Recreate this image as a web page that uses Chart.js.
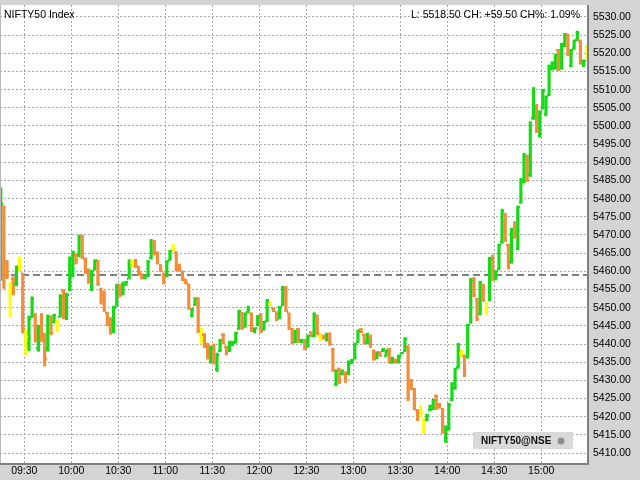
<!DOCTYPE html>
<html>
<head>
<meta charset="utf-8">
<script src="https://cdn.jsdelivr.net/npm/chart.js@4/dist/chart.umd.min.js"></script>
<style>
html, body { margin: 0; padding: 0; background: #d4d4d4; }
canvas { display: block; }
</style>
</head>
<body>
<canvas id="myChart" width="640" height="480"></canvas>
<script>
// 2-minute bars from 09:15
const firstBar = '09:15';
const barStep = 2;

const opens = [
    5460, 5478, 5462.5, 5455, 5458, 5456.5, 5461.5, 5459.5, 5442, 5440,
    5447.5, 5448, 5439, 5447.5, 5442.5, 5438.5, 5447.5, 5446, 5446, 5447.5,
    5454.5, 5447, 5455, 5459, 5464.5, 5464.5, 5469.5, 5463.5, 5460.5, 5456,
    5460.5, 5462.5, 5455, 5453.5, 5448.5, 5447, 5443.5, 5450.5, 5456, 5454,
    5456.3, 5458, 5462.5, 5463, 5461, 5459.2, 5458.1, 5458.7, 5463.8, 5468,
    5465, 5461.5, 5459.4, 5459, 5463.2, 5466.2, 5465.2, 5461.8, 5460, 5457.6,
    5456.3, 5447.8, 5450.8, 5452.5, 5442.5, 5442.5, 5440, 5435, 5439.5, 5433,
    5438, 5442.5, 5439.3, 5438, 5439.7, 5440.4, 5444.2, 5448.5, 5444.8, 5448.8,
    5448.4, 5443.3, 5445.2, 5448, 5444, 5446.3, 5451, 5449.8, 5448.7, 5447.2,
    5450.8, 5455.5, 5448.4, 5444, 5440.6, 5444, 5440.6, 5441, 5439.3, 5443.2,
    5442.3, 5447.8, 5442, 5442.3, 5441, 5442.8, 5438.6, 5429, 5433, 5431.7,
    5432.2, 5431.7, 5434.8, 5436, 5440.6, 5444.1, 5442.5, 5440.3, 5442.3, 5438.2,
    5436.1, 5437.7, 5438, 5436.8, 5438.5, 5434.9, 5435.7, 5435, 5437.3, 5438,
    5439.3, 5430, 5427.6, 5421.8, 5421, 5418.8, 5419, 5421.8, 5422.1, 5425.8,
    5423.5, 5422.1, 5413.5, 5416.6, 5424.6, 5428, 5433.6, 5437.5, 5436.8, 5436.4,
    5446, 5458, 5452.4, 5448.3, 5456.3, 5450, 5452.2, 5464.2, 5457.8, 5460.6,
    5468, 5475.8, 5467.3, 5462.5, 5473.4, 5466.2, 5479, 5484.6, 5491.7, 5486.5,
    5502.2, 5505.7, 5497.3, 5505, 5503.2, 5508.6, 5515.6, 5516, 5520.8, 5516,
    5522, 5525, 5516.6, 5521.4, 5523.8, 5523.4, 5516.6, 5518.5
];

const highs = [
    5483, 5478, 5463, 5457, 5458.5, 5461.5, 5464, 5459.5, 5443.7, 5447.7,
    5453, 5448.5, 5445.2, 5448.4, 5443, 5448, 5447.8, 5448.2, 5446.6, 5453.6,
    5455, 5454, 5464, 5465.6, 5464.7, 5470, 5470, 5463.7, 5460.7, 5460.3,
    5463.2, 5463, 5455.4, 5454.6, 5448.8, 5447.3, 5450.4, 5456.5, 5456.5, 5457.1,
    5457.3, 5463.2, 5463, 5463.3, 5461.4, 5459.4, 5458.9, 5463, 5468.8, 5468.5,
    5465.4, 5461.9, 5459.6, 5463, 5465.8, 5467.4, 5465.4, 5462, 5460.1, 5457.8,
    5456.5, 5449.8, 5452.8, 5452.8, 5444.3, 5442.9, 5440.2, 5439.5, 5440, 5437.5,
    5441.3, 5442.9, 5439.5, 5440.8, 5440.8, 5443.3, 5449.3, 5448.7, 5448.6, 5450.4,
    5448.6, 5444.5, 5447.9, 5448.4, 5446.3, 5452.3, 5451.5, 5450, 5448.9, 5450.4,
    5455.9, 5455.9, 5448.6, 5444.3, 5443.8, 5444.3, 5441.3, 5441.3, 5442.5, 5443.4,
    5448.6, 5448, 5443, 5442.5, 5443, 5443.1, 5438.8, 5432.9, 5433.4, 5432.9,
    5432.4, 5435.4, 5435.8, 5440.2, 5443.9, 5444.3, 5442.7, 5443, 5442.5, 5438.4,
    5437.9, 5437.9, 5438.8, 5438.4, 5438.8, 5436.4, 5435.9, 5437, 5437.7, 5441.8,
    5439.5, 5430.3, 5427.8, 5422, 5423.2, 5419.5, 5420.7, 5423.2, 5424.8, 5426,
    5423.7, 5422.3, 5417.5, 5423.7, 5429.4, 5433.3, 5440.2, 5438.4, 5437, 5445.5,
    5458.1, 5458.3, 5452.6, 5457.3, 5456.5, 5451.5, 5463.9, 5464.5, 5460.2, 5467.5,
    5477.1, 5476, 5467.5, 5471.9, 5473.7, 5478, 5485.6, 5492.5, 5492, 5501.2,
    5510.6, 5506, 5504.2, 5510.1, 5508.3, 5516.8, 5517.7, 5519.8, 5521.1, 5522.8,
    5525.5, 5525.3, 5521.1, 5523.7, 5526.1, 5523.7, 5518.2, 5522.3
];

const lows = [
    5457.5, 5455.3, 5458, 5447.5, 5453.5, 5456, 5460, 5443, 5437, 5438.2,
    5447.3, 5440.5, 5438, 5440.6, 5433.9, 5438, 5442.5, 5445.8, 5443.3, 5447.4,
    5447, 5446.7, 5454.7, 5458.5, 5462, 5464, 5463.5, 5459.4, 5456.7, 5454.7,
    5460.3, 5456.1, 5451, 5448.9, 5445, 5442.7, 5443.1, 5450.4, 5453, 5453.5,
    5456.1, 5457.9, 5461, 5461, 5458.9, 5457.9, 5457.9, 5458.5, 5463.4, 5464.5,
    5462, 5459.9, 5456.5, 5458.5, 5463, 5465.6, 5460.1, 5460, 5457.4, 5456.5,
    5449.5, 5447.5, 5450.6, 5443.1, 5440, 5439, 5435.8, 5434.7, 5434.5, 5432.4,
    5437.9, 5440, 5437, 5437.9, 5439.5, 5440.2, 5444, 5444, 5444.6, 5448.6,
    5443.4, 5443.1, 5445, 5443.1, 5443.8, 5446.1, 5450.6, 5448.9, 5446.4, 5447,
    5450.6, 5448.9, 5444, 5440, 5440.4, 5440.4, 5440.4, 5438.4, 5439.1, 5442,
    5442, 5442.5, 5440.8, 5441.3, 5440.8, 5439.6, 5432.4, 5428.5, 5429.1, 5431.5,
    5429.4, 5431.5, 5434.6, 5435.8, 5440.4, 5443.1, 5440, 5440, 5439, 5435.5,
    5435.9, 5436.6, 5437.9, 5436.6, 5434.7, 5434.7, 5434.7, 5434.7, 5437.3, 5437.9,
    5424.4, 5427.4, 5421.9, 5418.9, 5419.8, 5415.4, 5418.9, 5421.6, 5421.9, 5421.9,
    5422.3, 5415.4, 5412.9, 5416.3, 5424.4, 5427.5, 5433.3, 5436.5, 5431, 5436.1,
    5445.7, 5453, 5446.4, 5448, 5451.7, 5448, 5451.9, 5457.4, 5457.6, 5460.4,
    5467.7, 5468.2, 5460.6, 5462.2, 5469.1, 5465.9, 5478.7, 5484.3, 5484.7, 5486.1,
    5501.8, 5498.2, 5496.9, 5504.6, 5502.8, 5508.3, 5515.4, 5515.6, 5515.2, 5515.6,
    5521.8, 5519.3, 5516.3, 5521.1, 5523.5, 5517, 5516.3, 5518.5
];

const closes = [
    5478.5, 5462, 5459, 5455, 5454.5, 5461, 5461.5, 5444, 5442, 5447,
    5452.5, 5441, 5445, 5442, 5436, 5447.5, 5443, 5448, 5446, 5453,
    5448, 5453.5, 5463.5, 5465, 5463, 5469.5, 5464, 5460, 5457, 5460,
    5463, 5456.5, 5452, 5449.5, 5445.5, 5443, 5450, 5456, 5453.5, 5456.5,
    5457, 5462.5, 5462.5, 5461.5, 5459.5, 5458.2, 5458.7, 5462.5, 5468, 5465,
    5462.5, 5460.2, 5457, 5462.8, 5465.5, 5466.2, 5461, 5460.3, 5457.8, 5456.8,
    5450, 5449.5, 5452.5, 5443.5, 5442.5, 5439.5, 5436.5, 5438.5, 5435, 5437,
    5441, 5440.5, 5437.5, 5440.5, 5440.6, 5443, 5449, 5444.5, 5448.3, 5450.2,
    5443.8, 5444.3, 5447.6, 5443.5, 5446, 5452, 5451, 5449.1, 5446.8, 5450.2,
    5455.5, 5449.2, 5444.4, 5440.5, 5443.5, 5440.8, 5441.1, 5438.8, 5442.2, 5442.3,
    5448.2, 5443, 5442, 5441.6, 5442.7, 5440, 5432.8, 5432.5, 5429.6, 5432.7,
    5429.8, 5435, 5435.6, 5440, 5443.6, 5443.3, 5440.4, 5442.7, 5439.4, 5435.9,
    5437.6, 5436.8, 5438.6, 5438.1, 5435, 5436.2, 5435, 5436.8, 5437.6, 5441.5,
    5426, 5428, 5422.3, 5419.3, 5421, 5418.8, 5420.4, 5423, 5424.5, 5422.4,
    5422.6, 5415.8, 5417, 5423.3, 5429, 5433, 5439.8, 5437.5, 5431.5, 5445.2,
    5457.5, 5453.4, 5447, 5457, 5452, 5450, 5463.5, 5458, 5460, 5467.2,
    5476.6, 5468.6, 5461, 5471.5, 5469.5, 5477.6, 5485.2, 5492, 5485, 5500.8,
    5510.2, 5498.6, 5503.8, 5509.7, 5508, 5516.4, 5517.4, 5519.5, 5515.6, 5522.5,
    5525.2, 5519.8, 5520.8, 5523.4, 5525.8, 5517.4, 5518, 5518.5
];

const timeLabels = ['09:30', '10:00', '10:30', '11:00', '11:30', '12:00',
    '12:30', '13:00', '13:30', '14:00', '14:30', '15:00'];

const prevClose = 5459.00;
const titleText = 'NIFTY50 Index';
const infoText = 'L: 5518.50 CH: +59.50 CH%: 1.09%';
const badgeText = 'NIFTY50@NSE';

const VERDE = '#14dc14';
const LARANJA = '#f58c37';
const AMARELO = '#ffff00';
const FONTE = '"Liberation Sans", Arial, sans-serif';

function toMin(s) {
    const p = s.split(':');
    return Number(p[0]) * 60 + Number(p[1]);
}

const start = toMin(firstBar);
const barTimes = opens.map((o, i) => start + barStep * i);
const cores = opens.map((o, i) => {
    if (closes[i] > o) return VERDE;
    if (closes[i] < o) return LARANJA;
    return AMARELO;
});

const data = {
    datasets: [{
        label: 'NIFTY50',
        data: barTimes.map((t, i) => ({ x: t, y: [lows[i], highs[i]] })),
        backgroundColor: cores,
        borderWidth: 0,
        borderSkipped: false,
        barThickness: 2.5
    }]
};

// fundo, linha do fechamento anterior, traços de abertura/fechamento, textos
const desenho = {
    id: 'desenho',
    beforeDraw(chart) {
        const { ctx, chartArea: a } = chart;
        ctx.save();
        ctx.fillStyle = '#d4d4d4';
        ctx.fillRect(0, 0, chart.width, chart.height);
        ctx.fillStyle = '#ffffff';
        ctx.fillRect(a.left, a.top, a.right - a.left, a.bottom - a.top);
        ctx.restore();
    },
    beforeDatasetsDraw(chart) {
        const { ctx, chartArea: a, scales } = chart;
        const y = Math.round(scales.y.getPixelForValue(prevClose));
        ctx.save();
        ctx.strokeStyle = '#808080';
        ctx.lineWidth = 2;
        ctx.setLineDash([7, 4]);
        ctx.beginPath();
        ctx.moveTo(a.left, y);
        ctx.lineTo(a.right, y);
        ctx.stroke();
        ctx.restore();
    },
    afterDatasetsDraw(chart) {
        const { ctx, chartArea: a, scales } = chart;
        const xs = scales.x, ys = scales.y;
        ctx.save();
        ctx.beginPath();
        ctx.rect(a.left, a.top, a.right - a.left, a.bottom - a.top);
        ctx.clip();
        barTimes.forEach((t, i) => {
            const x = Math.round(xs.getPixelForValue(t));
            ctx.fillStyle = cores[i];
            const yo = Math.round(ys.getPixelForValue(opens[i]));
            const yc = Math.round(ys.getPixelForValue(closes[i]));
            ctx.fillRect(x - 2, yo - 1, 1, 2);
            ctx.fillRect(x + 1, yc - 1, 1, 2);
        });
        ctx.restore();

        ctx.save();
        // bordas do gráfico
        ctx.strokeStyle = '#b8b8b8';
        ctx.lineWidth = 1;
        ctx.beginPath();
        ctx.moveTo(a.left + 0.5, a.top);
        ctx.lineTo(a.left + 0.5, a.bottom);
        ctx.stroke();
        ctx.strokeStyle = '#808080';
        ctx.lineWidth = 2;
        ctx.beginPath();
        ctx.moveTo(a.right + 1, a.top);
        ctx.lineTo(a.right + 1, a.bottom + 2);
        ctx.moveTo(a.left, a.bottom + 1);
        ctx.lineTo(a.right + 2, a.bottom + 1);
        ctx.stroke();

        // textos
        ctx.fillStyle = '#000000';
        ctx.font = '10.5px ' + FONTE;
        ctx.textBaseline = 'middle';
        ctx.textAlign = 'left';
        ctx.fillText(titleText, a.left + 4, a.top + 10);
        ctx.textAlign = 'right';
        ctx.fillText(infoText, a.right - 7, a.top + 10);

        // selo NIFTY50@NSE
        ctx.fillStyle = '#d9d9d9';
        ctx.fillRect(473, 432, 100, 17);
        ctx.fillStyle = '#111111';
        ctx.font = 'bold 10px ' + FONTE;
        ctx.textAlign = 'left';
        ctx.fillText(badgeText, 481, 441);
        ctx.fillStyle = '#909090';
        ctx.beginPath();
        ctx.arc(561, 441, 3.5, 0, Math.PI * 2);
        ctx.fill();
        ctx.restore();
    }
};

const config = {
    type: 'bar',
    data: data,
    options: {
        responsive: false,
        animation: false,
        layout: { padding: { top: 5, left: 0, right: 0, bottom: 0 } },
        plugins: {
            legend: { display: false },
            tooltip: { enabled: false }
        },
        scales: {
            x: {
                type: 'linear',
                offset: false,
                min: 554.5,
                max: 929.2,
                afterBuildTicks: function (scale) {
                    scale.ticks = timeLabels.map(s => ({ value: toMin(s) }));
                },
                afterFit: function (scale) {
                    scale.height = 17;
                    scale.paddingLeft = 0;
                    scale.paddingRight = 0;
                },
                ticks: {
                    autoSkip: false,
                    maxRotation: 0,
                    padding: 2,
                    color: '#000000',
                    font: { family: 'Liberation Sans', size: 10.5 },
                    callback: function (value) {
                        const h = Math.floor(value / 60), m = value % 60;
                        return String(h).padStart(2, '0') + ':' + String(m).padStart(2, '0');
                    }
                },
                grid: { color: '#a8a8a8', drawTicks: false, offset: false },
                border: { display: false, dash: [2, 2] }
            },
            y: {
                position: 'right',
                min: 5407.25,
                max: 5533.3,
                afterFit: function (scale) {
                    scale.width = 53;
                    scale.paddingTop = 0;
                    scale.paddingBottom = 0;
                },
                ticks: {
                    stepSize: 5,
                    includeBounds: false,
                    padding: 6,
                    color: '#000000',
                    font: { family: 'Liberation Sans', size: 10.5 },
                    callback: function (value) {
                        return value.toFixed(2);
                    }
                },
                grid: { color: '#a8a8a8', drawTicks: false },
                border: { display: false, dash: [2, 2] }
            }
        }
    },
    plugins: [desenho]
};

const myChart = new Chart(
    document.getElementById('myChart'),
    config
);
</script>
</body>
</html>
